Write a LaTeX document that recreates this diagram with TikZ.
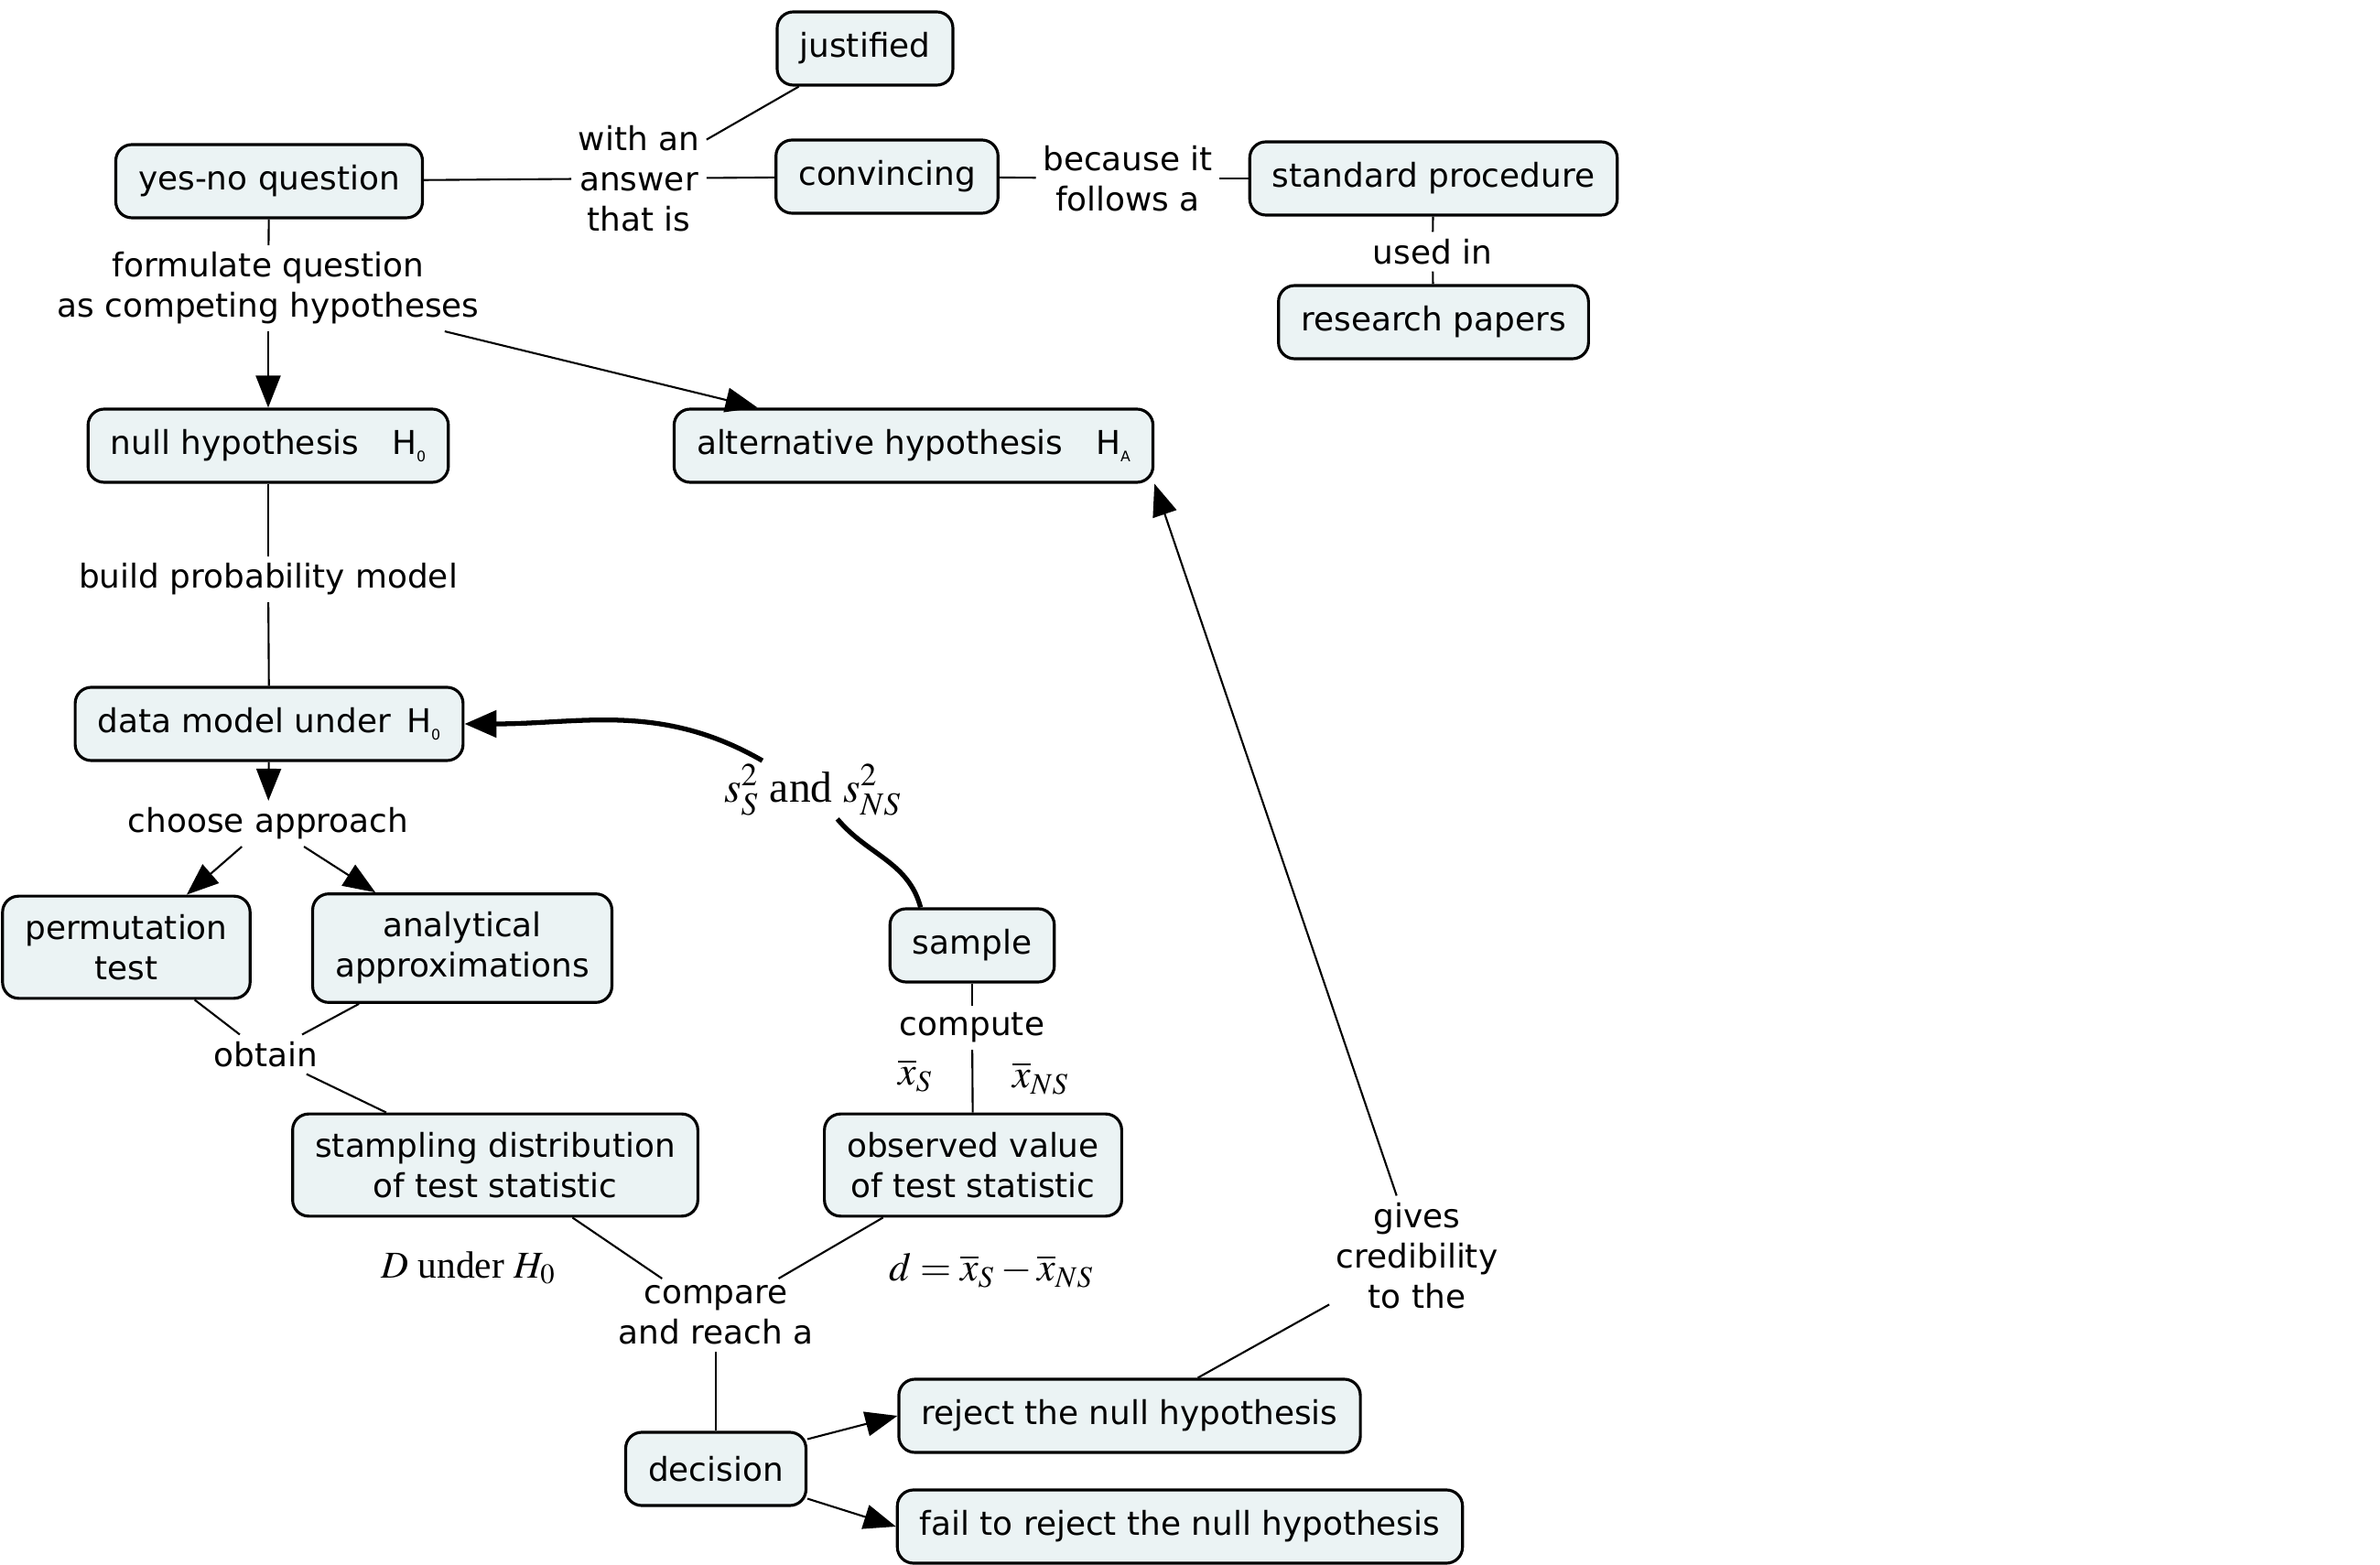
\documentclass[tikz,border=0pt]{standalone}
\usepackage{xcolor}
\usepackage{tikz}
\usepackage{amsmath}
\usepackage{mathptmx}
\usepackage{fontspec}
\setmainfont{DejaVu Sans}
\newfontfamily\timesfont{Liberation Serif}
\usetikzlibrary{positioning,arrows.meta}
\definecolor{conceptfill}{RGB}{235,243,244}
\tikzset{
    concept/.style = {rectangle, rounded corners = 5pt, draw = black, line width = 0.9pt, fill = conceptfill, align = center, inner xsep = 7pt, inner ysep = 0.2cm, minimum height = 0.8cm},
    phrase/.style = {align = center, inner sep = 2pt},
    mathlabel/.style = {inner sep = 1pt, font = \fontsize{12.5}{14}\timesfont},
    link/.style = {line width = 0.6pt},
    linkarrow/.style = {line width = 0.6pt, -{Triangle[length = 3.5mm, width = 2.7mm]}},
    sweep/.style = {line width = 1.5pt, -{Triangle[length = 3.5mm, width = 2.9mm]}}
}
\newcommand{\hsub}[1]{H\raisebox{-0.4ex}{\fontsize{4.5}{5}\selectfont #1}}

\begin{document}
\begin{tikzpicture}[font = \fontsize{10.2}{12.5}\selectfont]
        \useasboundingbox (0,0) rectangle (26,-17.1);
        % concepts
        \node [concept] (1) at (9.45,-0.53) {justified};
        \node [concept] (2) at (2.94,-1.98) {yes-no question};
        \node [concept] (3) at (9.69,-1.93) {convincing};
        \node [concept] (4) at (15.66,-1.95) {standard procedure};
        \node [concept] (5) at (15.66,-3.52) {research papers};
        \node [concept] (6) at (2.93,-4.87) {null hypothesis\quad \hsub{0}};
        \node [concept] (7) at (9.98,-4.87) {alternative hypothesis\quad \hsub{A}};
        \node [concept] (8) at (2.94,-7.91) {data model under\, \hsub{0}};
        \node [concept] (9) at (1.38,-10.35) {permutation\\test};
        \node [concept] (10) at (5.05,-10.36) {analytical\\approximations};
        \node [concept] (11) at (10.62,-10.33) {sample};
        \node [concept] (12) at (5.41,-12.73) {stampling distribution\\of test statistic};
        \node [concept] (13) at (10.63,-12.73) {observed value\\of test statistic};
        \node [concept] (14) at (7.82,-16.05) {decision};
        \node [concept] (15) at (12.34,-15.47) {reject the null hypothesis};
        \node [concept] (16) at (12.89,-16.68) {fail to reject the null hypothesis};
        % linking phrases
        \node [phrase] (l1) at (6.98,-1.95) {with an\\answer\\that is};
        \node [phrase] (l2) at (12.32,-1.95) {because it\\follows a};
        \node [phrase] (l3) at (15.65,-2.75) {used in};
        \node [phrase] (l4) at (2.93,-3.15) {formulate question\\as competing hypotheses};
        \node [phrase] (l5) at (2.93,-6.33) {build probability model};
        \node [phrase] (l6) at (2.93,-9.0) {choose approach};
        \node [phrase] (l7) at (2.90,-11.52) {obtain};
        \node [phrase] (l8) at (10.62,-11.23) {compute};
        \node [phrase] (l9) at (7.82,-14.37) {compare\\and reach a};
        \node [phrase] (l10) at (15.48,-13.72) {gives\\credibility\\to the};
        \node [mathlabel, font = \fontsize{13.5}{15}\timesfont] (l11) at (8.88,-8.63) {$s_S^2$ and $s_{NS}^2$};
        \node [mathlabel] (m1) at (10.0,-11.75) {$\overline{x}_S$};
        \node [mathlabel] (m2) at (11.37,-11.78) {$\overline{x}_{NS}$};
        \node [mathlabel, font = \fontsize{11.8}{14}\timesfont] (m3) at (5.12,-13.85) {$D$ under $H_0$};
        \node [mathlabel] (m4) at (10.83,-13.88) {$d = \overline{x}_S - \overline{x}_{NS}$};
        % connectors
        \draw [link] (2) -- (l1);
        \draw [link] (l1) -- (1);
        \draw [link] (l1) -- (3);
        \draw [link] (3) -- (l2);
        \draw [link] (l2) -- (4);
        \draw [link] (4) -- (l3);
        \draw [link] (l3) -- (5);
        \draw [link] (2) -- (l4);
        \draw [linkarrow] (l4) -- (6);
        \draw [linkarrow] (l4) -- (7);
        \draw [link] (6) -- (l5);
        \draw [link] (l5) -- (8);
        \draw [linkarrow] (8) -- (l6);
        \draw [linkarrow] (l6) -- (9);
        \draw [linkarrow] (l6) -- (10);
        \draw [link] (9) -- (l7);
        \draw [link] (10) -- (l7);
        \draw [link] (l7) -- (12);
        \draw [link] (11) -- (l8);
        \draw [link] (l8) -- (13);
        \draw [link] (12) -- (l9);
        \draw [link] (13) -- (l9);
        \draw [link] (l9) -- (14);
        \draw [linkarrow] (14.18) -- (15.west);
        \draw [linkarrow] (14.-18) -- (16.west);
        \draw [link] (15) -- (l10);
        \draw [linkarrow] (l10) -- (7.south east);
        \draw [line width = 1.5pt] ([xshift = 0.35cm]11.north west) to [out = 105, in = -50] (l11);
        \draw [sweep] (l11) to [out = 150, in = 0] (8);
    \end{tikzpicture}
\end{document}
